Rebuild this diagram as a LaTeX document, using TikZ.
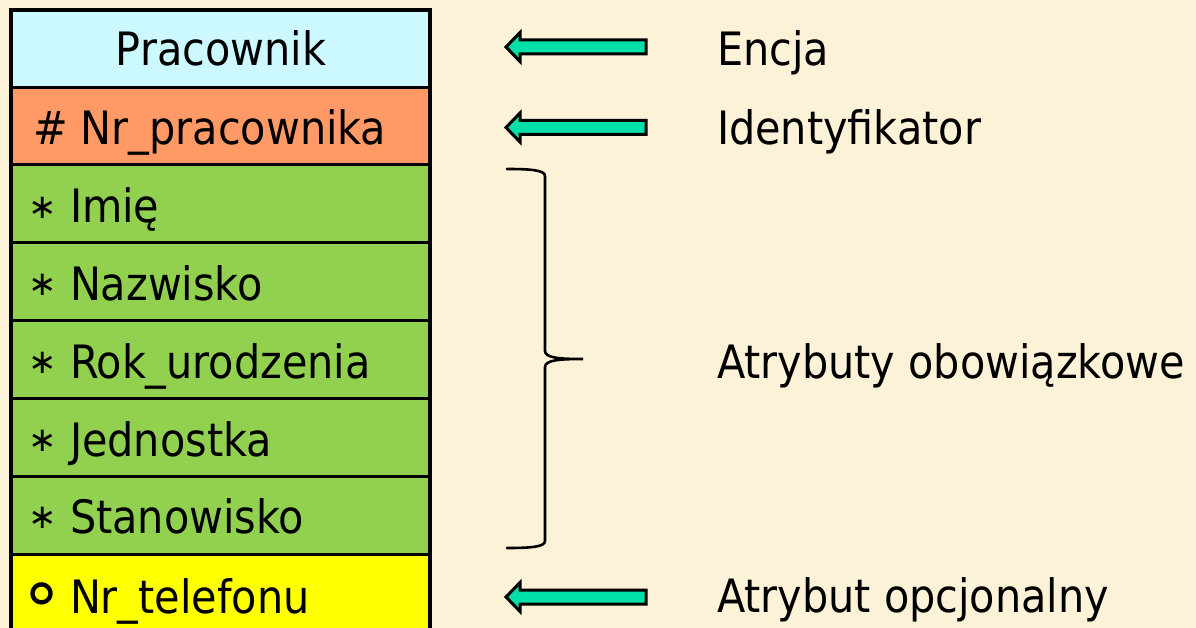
\documentclass[tikz,border=0pt]{standalone}
\usepackage{fontspec}
\setmainfont{DejaVu Sans Condensed}
\newfontfamily\symfont{DejaVu Sans}
\usetikzlibrary{calc}
\definecolor{paper}{RGB}{252,242,216}
\definecolor{hdr}{RGB}{204,248,255}
\definecolor{keyrow}{RGB}{255,153,102}
\definecolor{mandrow}{RGB}{146,208,80}
\definecolor{optrow}{RGB}{255,255,0}
\definecolor{pointer}{RGB}{0,224,168}
\tikzset{
  row/.style={draw=black, line width=3.2pt, minimum width=419pt, inner sep=0pt, outer sep=0pt},
  txt/.style={inner sep=0pt, outer sep=0pt, font=\fontsize{46}{52}\selectfont},
  astsym/.style={inner sep=0pt, outer sep=0pt, font=\symfont\fontsize{34}{34}\selectfont},
  optsym/.style={inner sep=0pt, outer sep=0pt, font=\symfont\fontsize{72}{72}\selectfont},
  blockarrow/.style={draw=black, line width=3pt, fill=pointer, line join=miter},
}
\begin{document}
\begin{tikzpicture}[x=1pt,y=-1pt]
  \fill[paper] (0,0) rectangle (1196,628);
  \useasboundingbox (0,0) rectangle (1196,628);

  % entity table: rows
  \node[row, fill=hdr,     minimum height=77.5pt] (r0) at (220.5,48.75) {};
  \node[row, fill=keyrow,  minimum height=77pt]   (r1) at (220.5,126)   {};
  \node[row, fill=mandrow, minimum height=78pt]   (r2) at (220.5,203.6) {};
  \node[row, fill=mandrow, minimum height=78pt]   (r3) at (220.5,281.7) {};
  \node[row, fill=mandrow, minimum height=78pt]   (r4) at (220.5,359.7) {};
  \node[row, fill=mandrow, minimum height=78pt]   (r5) at (220.5,437.6) {};
  \node[row, fill=mandrow, minimum height=78pt]   (r6) at (220.5,515.6) {};
  \node[row, fill=optrow,  minimum height=90pt]   (r7) at (220.5,599.7) {};

  % entity table: texts
  \node[txt, anchor=base] (t0) at (221,66) {Pracownik};
  \node[txt, anchor=base west] (t1) at (33,145) {\# Nr\_pracownika};
  \foreach \name/\yy/\lbl in {t2/223/Imię, t3/300/Nazwisko, t4/378/Rok\_urodzenia,
                              t5/456/Jednostka, t6/533/Stanowisko}{
    \node[astsym] (\name s) at (42.5,\yy-15) {∗};
    \node[txt, anchor=base west] (\name) at (70,\yy) {\lbl};
  }
  \node[optsym] (t7s) at (42.5,600) {∘};
  \node[txt, anchor=base west] (t7) at (70,613) {Nr\_telefonu};

  % explanations
  \node[txt, anchor=base west] (l0) at (717,66)  {Encja};
  \node[txt, anchor=base west] (l1) at (717,145) {Identyfikator};
  \node[txt, anchor=base west] (l2) at (717,378) {Atrybuty obowiązkowe};
  \node[txt, anchor=base west] (l3) at (717,612) {Atrybut opcjonalny};

  % block arrows pointing at the table
  \foreach \yy in {47,127.5,597}{
    \draw[blockarrow] (506,\yy) -- (520,\yy-14.5) -- (520,\yy-7) -- (646,\yy-7)
      -- (646,\yy+7) -- (520,\yy+7) -- (520,\yy+14.5) -- cycle;
  }

  % brace grouping the mandatory attributes
  \draw[line width=2.6pt, line cap=round]
    (507,169) .. controls (530,169) and (545,170) .. (545,176)
    -- (545,351) .. controls (545,358) and (560,359) .. (583,359)
    .. controls (560,359) and (545,360) .. (545,367)
    -- (545,541) .. controls (545,547) and (530,548) .. (507,548);
\end{tikzpicture}
\end{document}
